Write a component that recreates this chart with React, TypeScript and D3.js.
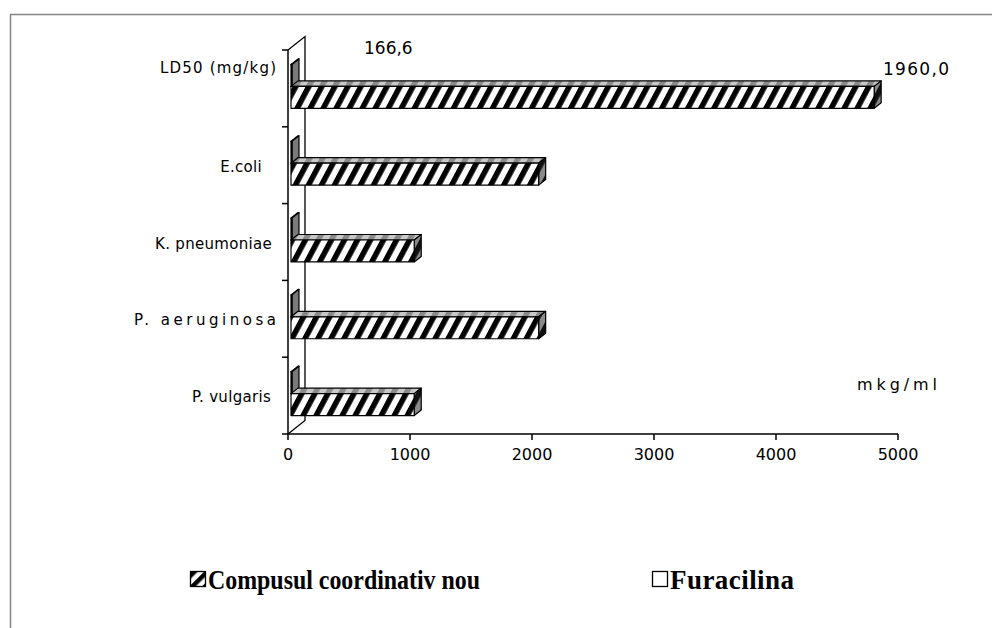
import React from "react";
import * as d3 from "d3";

// Categories, listed top to bottom
const categories = ["LD50 (mg/kg)", "E.coli", "K. pneumoniae", "P. aeruginosa", "P. vulgaris"];
// Series values
const compusulValues = [4780, 2030, 1010, 2030, 1010];
const furacilinaValues = [8, 8, 8, 8, 8];
const seriesNames = ["Compusul coordinativ nou", "Furacilina"];
// Axis ticks
const xTicks = [0, 1000, 2000, 3000, 4000, 5000];
// Free text annotations
const noteFuracilina = "166,6";
const noteCompusul = "1960,0";
const unitNote = "mkg/ml";

const W = 992;
const H = 628;
const LABEL_FONT = "'DejaVu Sans', sans-serif";
const LEGEND_FONT = "'Liberation Serif', 'Times New Roman', serif";

// category label layout: right edge, optional stretched width, vertical nudge
const labelRight = [276, 262, 272, 276, 271];
const labelWidth: (number | null)[] = [116, null, null, 142, null];
const labelDy = [-21, 1, 1, 1, 1];

export default function App() {
  const x = d3.scaleLinear().domain([0, 5000]).range([288, 898]);
  const y = d3.scaleBand<string>().domain(categories).range([50, 434]).paddingInner(0).paddingOuter(0);
  const inner = d3
    .scaleBand<string>()
    .domain(["Furacilina", "Compusul"])
    .range([0, y.bandwidth()])
    .paddingInner(0)
    .paddingOuter(0.75);

  // oblique depth of the chart box, bar front-plane offset and bar thickness
  const D = { x: 17, y: -13.5 };
  const F = { x: 3, y: -2 };
  const B = { x: 7, y: -5.5 };

  const x0 = x(0);
  const yTop = 50;
  const yBot = 434;

  const bar3d = (v: number, yy0: number, yy1: number, kind: "c" | "f", key: string) => {
    const xl = x(0) + F.x;
    const xr = x(v) + F.x;
    const yt = yy0 + F.y;
    const yb = yy1 + F.y;
    const pts = (p: number[][]) => p.map((q) => q.join(",")).join(" ");
    const top = pts([[xl, yt], [xl + B.x, yt + B.y], [xr + B.x, yt + B.y], [xr, yt]]);
    const side = pts([[xr, yt], [xr + B.x, yt + B.y], [xr + B.x, yb + B.y], [xr, yb]]);
    const frontFill = kind === "c" ? "url(#hatchFront)" : "#ffffff";
    const topFill = kind === "c" ? "url(#hatchTop)" : "#c0c0c0";
    const sideFill = kind === "c" ? "url(#hatchSide)" : "#7a7a7a";
    return (
      <g key={key} stroke="#000" strokeWidth={1.2} strokeLinejoin="round">
        <polygon points={top} fill={topFill} />
        <polygon points={side} fill={sideFill} />
        <rect x={xl} y={yt} width={Math.max(0, xr - xl)} height={yb - yt} fill={frontFill} />
      </g>
    );
  };

  return (
    <svg
      width={W}
      height={H}
      style={{ position: "absolute", left: 0, top: 0, background: "#fff" }}
      xmlns="http://www.w3.org/2000/svg"
    >
      <defs>
        <pattern id="hatchFront" patternUnits="userSpaceOnUse" width={11.5} height={11.5} patternTransform="rotate(28)">
          <rect width={11.5} height={11.5} fill="#fff" />
          <rect width={5.5} height={11.5} fill="#000" />
        </pattern>
        <pattern id="hatchTop" patternUnits="userSpaceOnUse" width={11.5} height={11.5} patternTransform="rotate(28)">
          <rect width={11.5} height={11.5} fill="#c8c8c8" />
          <rect width={5.5} height={11.5} fill="#8a8a8a" />
        </pattern>
        <pattern id="hatchSide" patternUnits="userSpaceOnUse" width={11.5} height={11.5} patternTransform="rotate(28)">
          <rect width={11.5} height={11.5} fill="#8a8a8a" />
          <rect width={5.5} height={11.5} fill="#111" />
        </pattern>
        <pattern id="hatchLegend" patternUnits="userSpaceOnUse" width={9} height={9} patternTransform="translate(191,572) rotate(45)">
          <rect width={9} height={9} fill="#fff" />
          <rect width={4.5} height={9} fill="#000" />
        </pattern>
      </defs>

      <rect x={0} y={0} width={W} height={H} fill="#fff" />
      {/* outer frame */}
      <path d={`M10.5,${H} V14.5 H${W}`} fill="none" stroke="#858585" strokeWidth={1.5} />

      {/* back wall and floor edge of the 3D box */}
      <polyline
        points={`${x0},${yTop} ${x0 + D.x},${yTop + D.y} ${x0 + D.x},${yBot + D.y} ${x0},${yBot}`}
        stroke="#000"
        strokeWidth={1.3}
        fill="none"
      />

      {/* bars */}
      {categories.map((c, i) => {
        const b = y(c)!;
        const fy = b + inner("Furacilina")!;
        const cy = b + inner("Compusul")!;
        return (
          <g key={c}>
            {bar3d(furacilinaValues[i], fy, fy + inner.bandwidth(), "f", c + "-f")}
            {bar3d(compusulValues[i], cy, cy + inner.bandwidth(), "c", c + "-c")}
          </g>
        );
      })}

      {/* value axis */}
      <g stroke="#000" strokeWidth={1.5}>
        <line x1={282} x2={x(5000)} y1={yBot} y2={yBot} />
        {xTicks.map((t) => (
          <line key={t} x1={x(t)} x2={x(t)} y1={yBot} y2={yBot + 6} />
        ))}
      </g>
      <g fontFamily={LABEL_FONT} fontSize={16} fill="#000" textAnchor="middle">
        {xTicks.map((t) => (
          <text key={t} x={x(t)} y={460}>
            {t}
          </text>
        ))}
      </g>

      {/* category axis */}
      <g stroke="#000" strokeWidth={1.5}>
        <line x1={x0} x2={x0} y1={yTop} y2={yBot} />
        {categories.map((c) => (
          <line key={c} x1={282} x2={x0} y1={y(c)!} y2={y(c)!} />
        ))}
      </g>
      <g fontFamily={LABEL_FONT} fontSize={15} fill="#000">
        {categories.map((c, i) => {
          const yy = y(c)! + y.bandwidth() / 2 + 5.5 + labelDy[i];
          const w = labelWidth[i];
          return w ? (
            <text key={c} x={labelRight[i] - w} y={yy} textLength={w} lengthAdjust="spacing">
              {c}
            </text>
          ) : (
            <text key={c} x={labelRight[i]} y={yy} textAnchor="end" letterSpacing={0.3}>
              {c}
            </text>
          );
        })}
      </g>

      {/* annotations */}
      <g fontFamily={LABEL_FONT} fontSize={17} fill="#000">
        <text x={364} y={54}>{noteFuracilina}</text>
        <text x={883} y={75} textLength={66} lengthAdjust="spacing">{noteCompusul}</text>
        <text x={857} y={390} fontSize={16} textLength={80} lengthAdjust="spacing">{unitNote}</text>
      </g>

      {/* legend */}
      <g fontFamily={LEGEND_FONT} fontWeight="bold" fontSize={27} fill="#000">
        <rect x={190.5} y={571.5} width={15} height={15} fill="url(#hatchLegend)" stroke="#000" strokeWidth={1.3} />
        <text x={208} y={589} textLength={272} lengthAdjust="spacingAndGlyphs">{seriesNames[0]}</text>
        <rect x={652.5} y={571.5} width={15} height={15} fill="#fff" stroke="#000" strokeWidth={1.3} />
        <text x={670} y={589} textLength={124} lengthAdjust="spacing">{seriesNames[1]}</text>
      </g>
    </svg>
  );
}
